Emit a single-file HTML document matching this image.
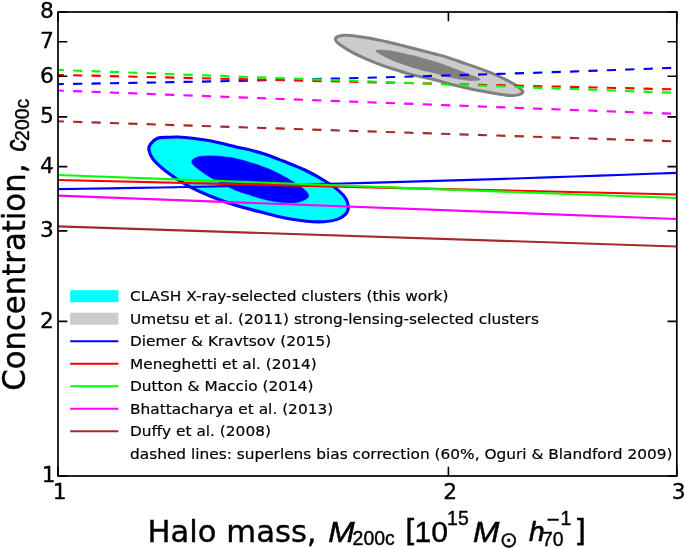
<!DOCTYPE html>
<html lang="en"><head><meta charset="utf-8"><title>Concentration vs halo mass</title>
<style>html,body{margin:0;padding:0;background:#fff}body{width:685px;height:548px;overflow:hidden}svg{display:block}text{font-family:"DejaVu Sans","Liberation Sans",sans-serif;fill:#000}.lb{font-family:"Liberation Sans","DejaVu Sans",sans-serif}.i{font-style:italic}</style></head><body>
<svg width="685" height="548" viewBox="0 0 685 548">
<rect width="685" height="548" fill="#fff"/>
<defs><clipPath id="ax"><rect x="58.0" y="12.0" width="618.8" height="464.0"/></clipPath></defs>
<g clip-path="url(#ax)" fill="none" stroke-width="2.15">
<path d="M335.4,39.5C335.3,38.1 336.4,36.9 338.7,36.2C341.0,35.5 343.9,35.1 349.1,35.4C354.3,35.7 362.5,36.9 370.0,38.2C377.5,39.6 386.5,41.7 394.0,43.5C401.5,45.3 408.1,47.0 414.9,48.8C421.7,50.5 429.8,52.6 435.0,54.0C440.2,55.4 440.6,55.2 445.9,56.9C451.2,58.6 459.6,61.6 466.8,64.1C474.0,66.6 482.8,69.6 489.2,72.1C495.6,74.6 500.8,77.0 505.3,79.3C509.9,81.6 513.7,83.9 516.5,85.8C519.3,87.7 521.2,89.5 522.2,90.6C523.2,91.7 523.3,91.9 522.6,92.6C521.9,93.3 520.5,94.4 518.1,94.9C515.8,95.4 512.5,95.7 508.5,95.4C504.5,95.1 500.0,94.3 494.1,93.3C488.2,92.3 479.9,90.9 473.2,89.5C466.5,88.1 460.3,86.6 453.9,85.0C447.5,83.4 441.6,81.5 434.6,79.8C427.6,78.1 418.7,76.4 411.7,74.6C404.7,72.8 398.8,70.9 392.4,68.8C386.0,66.7 379.9,64.7 373.2,61.9C366.5,59.1 357.9,55.2 352.3,52.3C346.7,49.4 342.3,46.4 339.5,44.3C336.7,42.2 335.5,40.9 335.4,39.5Z" fill="#cccccc" stroke="#808080" stroke-width="3"/>
<path d="M375.6,50.7C375.6,49.4 384.2,50.2 389.2,50.7C394.1,51.2 399.9,52.7 405.3,53.9C410.7,55.1 415.4,56.2 421.4,57.9C427.3,59.5 435.1,61.8 441.0,63.8C446.9,65.8 451.7,67.7 457.1,69.7C462.5,71.8 469.3,74.5 473.2,76.1C477.1,77.7 480.4,78.6 480.4,79.3C480.4,80.0 476.5,80.5 473.2,80.5C469.9,80.5 465.1,80.1 460.3,79.3C455.5,78.5 448.6,76.8 444.3,75.7C440.0,74.6 438.4,73.9 434.6,72.9C430.8,71.9 426.3,71.2 421.4,69.9C416.5,68.6 410.7,66.9 405.3,65.0C399.9,63.1 394.1,61.1 389.2,58.7C384.2,56.3 375.6,52.0 375.6,50.7Z" fill="#808080" stroke="#808080" stroke-width="0.6"/>
<path d="M148.8,149.5C148.4,147.0 149.2,145.9 150.6,144.0C152.0,142.1 154.6,139.4 157.5,138.3C160.4,137.2 164.5,137.5 168.0,137.3C171.5,137.1 174.4,136.8 178.5,137.0C182.6,137.2 187.2,137.6 192.5,138.2C197.8,138.8 202.7,139.4 210.0,140.8C217.3,142.2 227.6,144.8 236.4,146.9C245.2,149.0 254.9,151.0 262.8,153.4C270.7,155.8 276.8,158.5 283.8,161.3C290.8,164.1 298.1,166.8 304.8,170.0C311.5,173.2 318.6,177.1 324.1,180.5C329.7,183.9 334.5,187.1 338.1,190.2C341.8,193.3 344.3,196.0 346.0,198.9C347.7,201.8 348.4,205.1 348.3,207.7C348.2,210.3 347.0,212.8 345.1,214.7C343.2,216.6 340.7,218.2 337.2,219.4C333.7,220.6 329.2,221.4 324.1,221.7C319.0,222.0 313.3,221.9 306.6,221.2C299.9,220.5 291.4,219.2 283.8,217.7C276.2,216.2 268.9,214.1 261.0,212.1C253.1,210.1 244.9,208.3 236.4,205.6C227.9,202.9 218.2,199.4 210.0,196.0C201.8,192.6 194.6,189.5 187.3,185.4C180.0,181.3 172.0,175.8 166.3,171.4C160.6,167.0 156.0,162.8 153.1,159.2C150.2,155.5 149.2,152.0 148.8,149.5Z" fill="#00ffff" stroke="#0000ff" stroke-width="3.1"/>
<path d="M191.7,161.8C191.7,159.8 194.2,157.9 197.8,156.9C201.5,155.9 207.5,155.8 213.6,156.0C219.7,156.2 227.3,156.8 234.6,158.3C241.9,159.8 250.8,162.6 257.5,164.8C264.2,167.1 269.1,169.0 275.0,171.8C280.9,174.6 287.9,178.6 292.6,181.4C297.3,184.2 300.4,186.1 303.1,188.4C305.8,190.7 308.4,193.5 308.7,195.4C309.0,197.3 306.9,198.6 304.8,199.8C302.7,201.0 299.6,202.0 296.1,202.4C292.6,202.8 288.8,202.8 283.8,202.4C278.8,202.0 272.1,201.1 266.3,199.8C260.5,198.5 254.1,196.3 248.8,194.6C243.5,192.9 240.5,192.4 234.6,189.8C228.7,187.2 219.7,182.8 213.6,179.3C207.5,175.8 201.5,171.7 197.8,168.8C194.2,165.9 191.7,163.8 191.7,161.8Z" fill="#0000ff" stroke="#0000ff" stroke-width="0.6"/>
<path d="M58.0,189.20L83.8,188.80L109.6,188.38L135.3,187.93L161.1,187.47L186.9,186.98L212.7,186.46L238.5,185.93L264.3,185.36L290.0,184.77L315.8,184.16L341.6,183.52L367.4,182.85L393.2,182.15L419.0,181.43L444.8,180.68L470.5,179.90L496.3,179.10L522.1,178.27L547.9,177.42L573.7,176.55L599.4,175.65L625.2,174.72L651.0,173.78L676.8,172.82" stroke="#0000ff"/>
<path d="M58.0,180.00L676.8,194.50" stroke="#ff0000"/>
<path d="M58.0,175.00L676.8,198.00" stroke="#00ff00"/>
<path d="M58.0,195.60L676.8,219.00" stroke="#ff00ff"/>
<path d="M58.0,226.40L676.8,246.50" stroke="#a52a2a"/>
<path d="M54.7,84.16L80.8,83.75L106.9,83.32L133.0,82.87L159.0,82.40L185.1,81.91L211.2,81.39L237.3,80.85L263.4,80.28L289.5,79.69L315.6,79.06L341.7,78.42L367.7,77.74L393.8,77.03L419.9,76.30L446.0,75.54L472.1,74.75L498.2,73.94L524.3,73.10L550.4,72.24L576.4,71.35L602.5,70.44L628.6,69.50L654.7,68.55L680.8,67.58" stroke="#0000ff" stroke-dasharray="9.2 9.21"/>
<path d="M54.7,74.82L680.8,89.49" stroke="#ff0000" stroke-dasharray="9.2 9.21"/>
<path d="M54.7,69.78L680.8,93.05" stroke="#00ff00" stroke-dasharray="9.2 9.21"/>
<path d="M54.7,90.38L680.8,114.05" stroke="#ff00ff" stroke-dasharray="9.2 9.21"/>
<path d="M54.7,121.19L680.8,141.53" stroke="#a52a2a" stroke-dasharray="9.2 9.21"/>
</g>
<rect x="58.0" y="12.0" width="618.8" height="464.0" fill="none" stroke="#000" stroke-width="1.7"/>
<path d="M58.0,476.00h9.3M676.8,476.00h-9.3M58.0,321.33h9.3M676.8,321.33h-9.3M58.0,230.86h9.3M676.8,230.86h-9.3M58.0,166.67h9.3M676.8,166.67h-9.3M58.0,116.88h9.3M676.8,116.88h-9.3M58.0,76.19h9.3M676.8,76.19h-9.3M58.0,41.80h9.3M676.8,41.80h-9.3M58.0,12.00h9.3M676.8,12.00h-9.3M58.00,476.0v-9.3M58.00,12.0v9.3M448.42,476.0v-9.3M448.42,12.0v9.3M676.80,476.0v-9.3M676.80,12.0v9.3" stroke="#000" stroke-width="1.6" fill="none"/>
<g font-size="21.8px" stroke="#000" stroke-width="0.3">
<text transform="translate(55.6,482.3) scale(1,1.01)" text-anchor="end">1</text>
<text transform="translate(53.8,327.6) scale(1,1.01)" text-anchor="end">2</text>
<text transform="translate(53.8,237.2) scale(1,1.01)" text-anchor="end">3</text>
<text transform="translate(53.8,173.0) scale(1,1.01)" text-anchor="end">4</text>
<text transform="translate(53.8,123.2) scale(1,1.01)" text-anchor="end">5</text>
<text transform="translate(53.8,82.5) scale(1,1.01)" text-anchor="end">6</text>
<text transform="translate(53.8,48.1) scale(1,1.01)" text-anchor="end">7</text>
<text transform="translate(53.8,18.3) scale(1,1.01)" text-anchor="end">8</text>
<text transform="translate(59.8,498.5) scale(1,1.0)" text-anchor="middle">1</text>
<text transform="translate(450.2,498.5) scale(1,1.0)" text-anchor="middle">2</text>
<text transform="translate(678.6,498.5) scale(1,1.0)" text-anchor="middle">3</text>
</g>
<rect x="70.2" y="290.2" width="48.2" height="12" fill="#00ffff"/>
<rect x="70.2" y="312.7" width="48.2" height="12" fill="#cccccc"/>
<path d="M70.2,341.2H118.4" stroke="#0000ff" stroke-width="2" fill="none"/>
<path d="M70.2,363.7H118.4" stroke="#ff0000" stroke-width="2" fill="none"/>
<path d="M70.2,386.2H118.4" stroke="#00ff00" stroke-width="2" fill="none"/>
<path d="M70.2,408.7H118.4" stroke="#ff00ff" stroke-width="2" fill="none"/>
<path d="M70.2,431.2H118.4" stroke="#a52a2a" stroke-width="2" fill="none"/>
<g font-size="15.36px" stroke="#000" stroke-width="0.2">
<text transform="translate(130,301.1) scale(1,0.935)">CLASH X-ray-selected clusters (this work)</text>
<text transform="translate(130,323.6) scale(1,0.935)">Umetsu et al. (2011) strong-lensing-selected clusters</text>
<text transform="translate(130,346.1) scale(1,0.935)">Diemer &amp; Kravtsov (2015)</text>
<text transform="translate(130,368.6) scale(1,0.935)">Meneghetti et al. (2014)</text>
<text transform="translate(130,391.1) scale(1,0.935)">Dutton &amp; Maccio (2014)</text>
<text transform="translate(130,413.6) scale(1,0.935)">Bhattacharya et al. (2013)</text>
<text transform="translate(130,436.1) scale(1,0.935)">Duffy et al. (2008)</text>
<text transform="translate(130,458.6) scale(1,0.935)">dashed lines: superlens bias correction (60%, Oguri &amp; Blandford 2009)</text>
</g>
<text transform="translate(25.4,390.8) rotate(-90) scale(1,1.02)" font-size="30.75px" class="dv" stroke="#000" stroke-width="0.4">Concentration,</text>
<text transform="translate(25.6,151.6) rotate(-90) scale(0.8,1)" font-size="30px" class="lb i" stroke="#000" stroke-width="0.6">c</text>
<text transform="translate(29.0,140.9) rotate(-90) scale(1,1)" font-size="19.4px" class="lb" stroke="#000" stroke-width="0.4">200c</text>
<text transform="translate(147.5,541.5) scale(1,1)" font-size="30.65px" class="dv" stroke="#000" stroke-width="0.4">Halo mass,</text>
<text transform="translate(328.2,541.5) scale(1,0.92)" font-size="31.6px" class="lb i" stroke="#000" stroke-width="0.6">M</text>
<text transform="translate(352.6,545.0) scale(1,1)" font-size="19.4px" class="lb" stroke="#000" stroke-width="0.4">200c</text>
<text transform="translate(404.9,541.1) scale(1,1)" font-size="30.5px" class="dv" stroke="#000" stroke-width="0.4">[</text>
<text transform="translate(414.4,541.5) scale(1,1)" font-size="30.2px" class="lb" stroke="#000" stroke-width="0.4">10</text>
<text transform="translate(447.1,524.7) scale(1,1)" font-size="19.4px" class="lb" stroke="#000" stroke-width="0.4">15</text>
<text transform="translate(473.0,541.5) scale(1,0.92)" font-size="31.6px" class="lb i" stroke="#000" stroke-width="0.6">M</text>
<text transform="translate(499.7,547.3) scale(1,1)" font-size="21.6px" class="dv" stroke="#000" stroke-width="0.4">⊙</text>
<text transform="translate(529.1,541.0) scale(1,1)" font-size="28px" class="lb i" stroke="#000" stroke-width="0.6">h</text>
<text transform="translate(541.9,545.8) scale(1,1)" font-size="19.4px" class="lb" stroke="#000" stroke-width="0.4">70</text>
<text transform="translate(546.7,527.2) scale(1,1)" font-size="22px" class="lb" stroke="#000" stroke-width="0.4">−</text>
<text transform="translate(560.4,525.1) scale(1,1)" font-size="19.4px" class="lb" stroke="#000" stroke-width="0.4">1</text>
<text transform="translate(574.3,541.1) scale(1,1)" font-size="30.5px" class="dv" stroke="#000" stroke-width="0.4">]</text>
</svg></body></html>
